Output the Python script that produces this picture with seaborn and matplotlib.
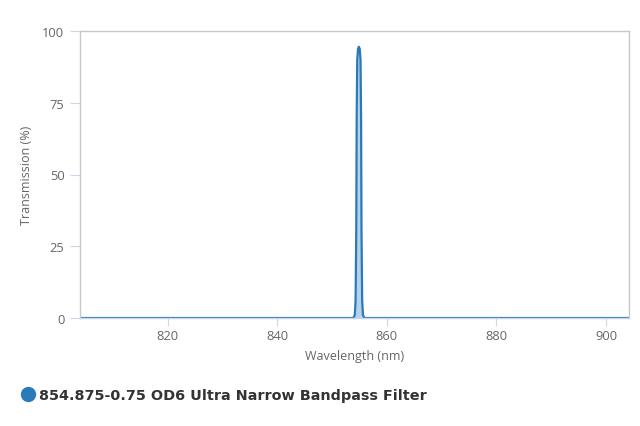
import matplotlib
matplotlib.use("Agg")
import matplotlib.pyplot as plt
import seaborn as sns
import pandas as pd
from matplotlib.lines import Line2D

wavelength = [804.0, 850.0, 853.9, 854.15, 854.3, 854.42, 854.5, 854.6, 854.75, 854.9,
              855.05, 855.2, 855.3, 855.38, 855.5, 855.65, 855.9, 860.0, 904.2]
transmission = [0.0, 0.0, 0.0, 1.0, 6.0, 30.0, 70.0, 90.0, 93.8, 94.5,
                93.8, 90.0, 70.0, 30.0, 6.0, 1.0, 0.0, 0.0, 0.0]
series_name = "854.875-0.75 OD6 Ultra Narrow Bandpass Filter"
x_ticks = [820, 840, 860, 880, 900]
y_ticks = [0, 25, 50, 75, 100]

df = pd.DataFrame({"Wavelength": wavelength, "Transmission": transmission})

sns.set_theme(style="white")
plt.rcParams['font.family'] = ['Open Sans', 'DejaVu Sans']

line_color = "#2a7ab9"
axis_color = "#ccd6eb"
frame_color = "#c8c8c8"
text_color = "#666666"

fig = plt.figure(figsize=(6.4, 4.27), dpi=100)
ax = fig.add_axes([80/640, 1 - 319/427, (629-80)/640, (319-32)/427])

ax.fill_between(df["Wavelength"], df["Transmission"], color="#a9cbe6", alpha=0.85, linewidth=0)
sns.lineplot(data=df, x="Wavelength", y="Transmission", ax=ax, color=line_color,
             linewidth=1.6, estimator=None, sort=False)

ax.set_xlim(804.0, 904.2)
ax.set_ylim(0, 100)
ax.set_xticks(x_ticks)
ax.set_yticks(y_ticks)
ax.set_xlabel("Wavelength (nm)", color=text_color, fontsize=9, labelpad=5)
ax.set_ylabel("Transmission (%)", color=text_color, fontsize=9, labelpad=7)

for side in ["top", "right", "left"]:
    ax.spines[side].set_color(frame_color)
    ax.spines[side].set_linewidth(1)
ax.spines["bottom"].set_color(axis_color)
ax.spines["bottom"].set_linewidth(1)
ax.tick_params(axis="x", direction="out", length=5.8, width=0.8, color=axis_color,
               labelcolor=text_color, labelsize=9.3, pad=2, bottom=True)
ax.tick_params(axis="y", direction="out", length=7.2, width=0.8, color=axis_color,
               labelcolor=text_color, labelsize=9.3, pad=4, left=True)
ax.grid(False)

handle = Line2D([], [], marker="o", linestyle="none", markersize=10,
                markerfacecolor=line_color, markeredgecolor=line_color)
fig.legend([handle], [series_name], loc="center left", bbox_to_anchor=(14/640, 1 - 396/427),
           frameon=False, handletextpad=0.15, borderaxespad=0, handlelength=1.2,
           prop={"family": ["DejaVu Sans"], "weight": "bold", "size": 10.4},
           labelcolor="#333333")

fig.savefig("out.png", dpi=100)
